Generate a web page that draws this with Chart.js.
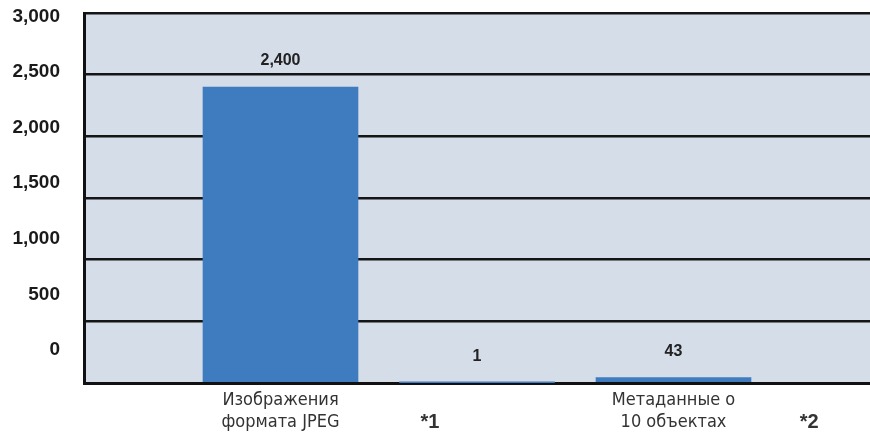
<!DOCTYPE html>
<html>
<head>
<meta charset="utf-8">
<script src="https://cdn.jsdelivr.net/npm/chart.js@4.4.1/dist/chart.umd.min.js"></script>
<style>
  html, body { margin: 0; padding: 0; background: #fff; }
  #wrap { width: 870px; height: 436px; }
</style>
</head>
<body>
<div id="wrap"><canvas id="barChart"></canvas></div>
<script>
// chart values
const categories = [['Изображения', 'формата JPEG'], '', ['Метаданные о', '10 объектах']];
const values = [2400, 1, 43];
const footnotes = ['*1', '*2'];
const yTicks = [0, 500, 1000, 1500, 2000, 2500, 3000];

const narrowFont = "'Liberation Sans Narrow', 'DejaVu Sans Condensed', 'Liberation Sans', Arial, sans-serif";
const boldFont = "'Liberation Sans', Arial, sans-serif";

// x tick list: category labels at 1..3, footnote markers next to them
const footnotePos = [1.76, 3.69];
const xTicks = [];
categories.forEach((c, i) => {
  if (c !== '') xTicks.push({ value: i + 1, label: c, note: false });
});
footnotes.forEach((f, i) => {
  xTicks.push({ value: footnotePos[i], label: ['', f], note: true });
});
xTicks.sort((a, b) => a.value - b.value);

const plotBg = {
  id: 'plotBg',
  beforeDraw(chart) {
    const { ctx, chartArea } = chart;
    ctx.save();
    ctx.fillStyle = '#d5dde9';
    ctx.fillRect(chartArea.left, chartArea.top, chartArea.right - chartArea.left, chartArea.bottom - chartArea.top);
    ctx.restore();
  }
};

const valueLabels = {
  id: 'valueLabels',
  afterDatasetsDraw(chart) {
    const ctx = chart.ctx;
    const meta = chart.getDatasetMeta(0);
    ctx.save();
    ctx.font = 'bold 16px ' + boldFont;
    ctx.fillStyle = '#222';
    ctx.textAlign = 'center';
    ctx.textBaseline = 'middle';
    meta.data.forEach((bar, i) => {
      ctx.fillText(values[i].toLocaleString('en-US'), bar.x, bar.y - 26);
    });
    ctx.restore();
  }
};

const ctx = document.getElementById('barChart').getContext('2d');
new Chart(ctx, {
  type: 'bar',
  data: {
    datasets: [{
      data: values.map((v, i) => ({ x: i + 1, y: v })),
      xAxisID: 'x',
      yAxisID: 'y',
      backgroundColor: '#3e7cbf',
      borderWidth: 0,
      barThickness: 155
    }]
  },
  options: {
    responsive: true,
    maintainAspectRatio: false,
    animation: false,
    layout: { padding: { top: 13, right: 0, left: 0, bottom: 0 } },
    plugins: {
      legend: { display: false },
      tooltip: { enabled: false }
    },
    scales: {
      x: {
        type: 'linear',
        min: 0,
        max: 4,
        offset: false,
        grid: { display: false, drawTicks: false },
        border: { display: true, color: '#111', width: 3 },
        afterBuildTicks(scale) {
          scale.ticks = xTicks.map(t => ({ value: t.value }));
        },
        afterFit(scale) { scale.height = 53; },
        ticks: {
          autoSkip: false,
          maxRotation: 0,
          padding: 6,
          color: '#333',
          callback: (value, index) => xTicks[index].label,
          font: (c) => xTicks[c.index] && xTicks[c.index].note
            ? { family: boldFont, size: 20, weight: 'bold', lineHeight: '22px' }
            : { family: narrowFont, size: 18, lineHeight: '22px' }
        }
      },
      y: {
        position: 'left',
        min: 0,
        max: 3000,
        ticks: { display: false, stepSize: 500 },
        grid: { color: '#151515', lineWidth: 2.5, drawTicks: false },
        border: { display: false },
        afterFit(scale) {
          scale.width = 0;
          scale.paddingTop = 0;
          scale.paddingBottom = 0;
        }
      },
      yLab: {
        position: 'left',
        min: -297,
        max: 3031,
        grid: { display: false, drawTicks: false },
        border: { display: true, color: '#111', width: 3 },
        afterBuildTicks(scale) {
          scale.ticks = yTicks.map(v => ({ value: v }));
        },
        afterFit(scale) {
          scale.width = 84;
          scale.paddingTop = 0;
          scale.paddingBottom = 0;
        },
        ticks: {
          padding: 24,
          color: '#1a1a1a',
          font: { family: boldFont, size: 19, weight: 'bold' },
          callback: (v) => v.toLocaleString('en-US')
        }
      }
    }
  },
  plugins: [plotBg, valueLabels]
});
</script>
</body>
</html>
